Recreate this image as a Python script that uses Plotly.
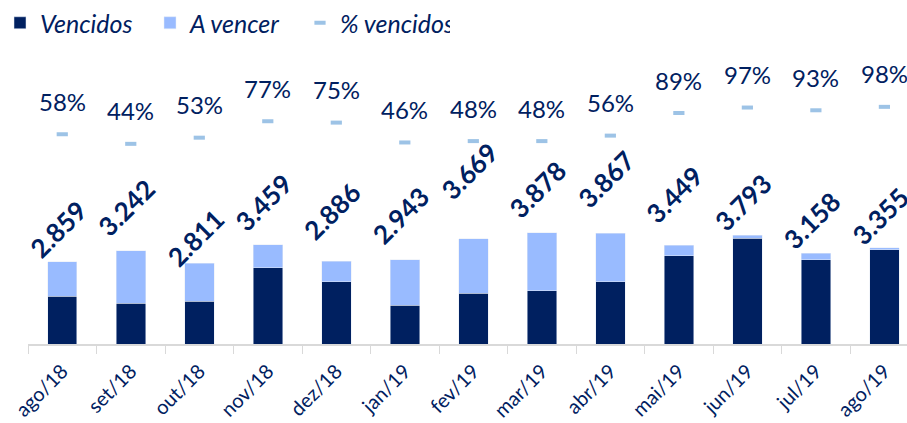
import plotly.graph_objects as go

categories = ["ago/18", "set/18", "out/18", "nov/18", "dez/18", "jan/19", "fev/19",
              "mar/19", "abr/19", "mai/19", "jun/19", "jul/19", "ago/19"]
totals = [2859, 3242, 2811, 3459, 2886, 2943, 3669, 3878, 3867, 3449, 3793, 3158, 3355]
vencidos = [1658, 1426, 1490, 2663, 2165, 1354, 1761, 1861, 2166, 3070, 3679, 2937, 3288]
a_vencer = [1201, 1816, 1321, 796, 721, 1589, 1908, 2017, 1701, 379, 114, 221, 67]
pct_vencidos = [58, 44, 53, 77, 75, 46, 48, 48, 56, 89, 97, 93, 98]

# vertical pixel offsets of the (manually placed) total labels above each bar
label_gap_px = [2, 13, -5, 12, 19, 14, 37, 13, 23, 20, 2, 3, 1]

NAVY = "#002060"
LIGHT = "#99BBFF"
DASH = "#9DC3E6"
FONT = "Lato"

fig = go.Figure()
fig.add_trace(go.Bar(x=categories, y=vencidos, name="Vencidos", marker_color=NAVY))
fig.add_trace(go.Bar(x=categories, y=a_vencer, name="A vencer", marker_color=LIGHT))
fig.add_trace(go.Scatter(x=categories, y=pct_vencidos, name="% vencidos", mode="markers",
                         yaxis="y2",
                         marker=dict(symbol="line-ew-open", size=8,
                                     line=dict(width=4, color=DASH), color=DASH)))

annotations = []
for c, t, g in zip(categories, totals, label_gap_px):
    annotations.append(dict(x=c, y=t, xref="x", yref="y", text=f"{t:,}".replace(",", "."),
                            showarrow=False, textangle=-45, xanchor="center", yanchor="bottom",
                            yshift=g - 7, xshift=-4,
                            font=dict(family=FONT, size=26, color=NAVY, weight="bold")))
for c, p in zip(categories, pct_vencidos):
    annotations.append(dict(x=c, y=p, xref="x", yref="y2", text=f"{p}%",
                            showarrow=False, xanchor="center", yanchor="middle",
                            yshift=33, font=dict(family=FONT, size=24, color=NAVY)))

fig.update_layout(
    width=907, height=423,
    margin=dict(l=28, r=0, t=45, b=79, autoexpand=False),
    paper_bgcolor="white", plot_bgcolor="white",
    barmode="stack", bargap=0.57,
    font=dict(family=FONT, color=NAVY),
    showlegend=True,
    legend=dict(orientation="h", x=0, y=1, xref="container", yref="container",
                xanchor="left", yanchor="top", traceorder="normal",
                font=dict(family=FONT, size=25, color=NAVY, style="italic"),
                itemwidth=30, entrywidth=105, entrywidthmode="pixels"),
    annotations=annotations,
    xaxis=dict(range=[-0.5, 12.33], showgrid=False, showline=True, linecolor="#D9D9D9",
               linewidth=1.5, ticks="outside", tickson="boundaries", ticklen=8,
               tickcolor="#D9D9D9", tickangle=-45, ticklabelstandoff=6,
               tickfont=dict(family=FONT, size=20, color=NAVY)),
    yaxis=dict(range=[0, 10420], visible=False, showgrid=False),
    yaxis2=dict(range=[-248.2, 188.3], overlaying="y", visible=False, showgrid=False),
)

fig.write_html("out.html", config={"displayModeBar": False},
               post_script="document.body.style.margin='0';document.body.style.overflow='hidden';")
